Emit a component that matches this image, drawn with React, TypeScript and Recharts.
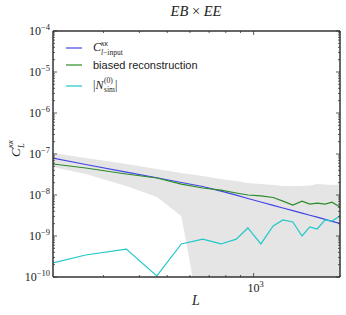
import * as React from "react"
import { ComposedChart, Line, Area, XAxis, YAxis } from "recharts"

// multipole bins
const ells = [200, 260, 360, 460, 560, 665, 770, 870, 955, 1060, 1170, 1265, 1370, 1475, 1570, 1665, 1775, 1875, 2000]

// C_l input
const inputCl = [7.98e-8, 5.54e-8, 3.62e-8, 2.63e-8, 2.02e-8, 1.61e-8, 1.24e-8, 9.9e-9, 8.2e-9, 6.75e-9, 5.6e-9, 4.82e-9, 4.14e-9, 3.6e-9, 3.2e-9, 2.88e-9, 2.54e-9, 2.28e-9, 2.02e-9]

// biased reconstruction
const biasedCl = [5.7e-8, 4.55e-8, 3.25e-8, 2.6e-8, 1.85e-8, 1.48e-8, 1.32e-8, 1.12e-8, 1.0e-8, 9.5e-9, 8.7e-9, 7.1e-9, 5.7e-9, 7.1e-9, 6.0e-9, 6.3e-9, 6.0e-9, 6.7e-9, 5.1e-9]

// |N0 sim|
const n0Sim = [2.2e-10, 3.44e-10, 4.8e-10, 1.06e-10, 6.4e-10, 8.4e-10, 6.4e-10, 8.4e-10, 1.57e-9, 6.4e-10, 1.75e-9, 2.46e-9, 2.2e-9, 1.0e-9, 1.66e-9, 1.48e-9, 2.46e-9, 2.32e-9, 3.07e-9]

// scatter band
const bandLow = [4.82e-8, 3.25e-8, 1.66e-8, 8.9e-9, 3.07e-9, 4.6e-12, 1e-12, 1e-12, 1e-12, 1e-12, 1e-12, 1e-12, 1e-12, 1e-12, 1e-12, 1e-12, 1e-12, 1e-12, 1e-12]
const bandHigh = [1.06e-7, 8.0e-8, 5.7e-8, 4.3e-8, 3.44e-8, 2.9e-8, 2.45e-8, 2.19e-8, 1.96e-8, 1.85e-8, 1.75e-8, 1.66e-8, 1.66e-8, 1.66e-8, 1.7e-8, 1.85e-8, 1.8e-8, 1.75e-8, 1.8e-8]

const xMajor = [1000]
const xMinor = [300, 400, 500, 600, 700, 800, 900, 2000]
const yMajor = [1e-10, 1e-9, 1e-8, 1e-7, 1e-6, 1e-5, 1e-4]
const yExp = ["−10", "−9", "−8", "−7", "−6", "−5", "−4"]

const yMinor: number[] = []
yMajor.slice(0, -1).forEach((d) => {
  for (let m = 2; m <= 9; m++) yMinor.push(d * m)
})

const data = ells.map((l, i) => ({
  L: l,
  input: inputCl[i],
  biased: biasedCl[i],
  n0: n0Sim[i],
  band: [bandLow[i], bandHigh[i]],
}))

const FRAME = "#333"
const LSERIF = "'Liberation Serif', serif"
const SANS = "'Liberation Sans', Arial, sans-serif"

const majorIndex = (v: number) => yMajor.findIndex((m) => Math.abs(m - v) / m < 1e-6)

const LeftTick = ({ x, y, payload }: any) => {
  const idx = majorIndex(payload.value)
  const major = idx >= 0
  return (
    <g>
      <line x1={x} x2={x + (major ? 4 : 2)} y1={y} y2={y} stroke={FRAME} strokeWidth={0.8} />
      {major && (
        <text x={x - 3} y={y + 4} textAnchor="end" fontFamily={LSERIF} fontSize={12} fill="#222">
          10<tspan dy={-5} fontSize={8.5}>{yExp[idx]}</tspan>
        </text>
      )}
    </g>
  )
}

const RightTick = ({ x, y, payload }: any) => {
  const major = majorIndex(payload.value) >= 0
  return <line x1={x} x2={x - (major ? 4 : 2)} y1={y} y2={y} stroke={FRAME} strokeWidth={0.8} />
}

const BottomTick = ({ x, y, payload }: any) => {
  const major = xMajor.includes(payload.value)
  return (
    <g>
      <line x1={x} x2={x} y1={y} y2={y - (major ? 4 : 2)} stroke={FRAME} strokeWidth={0.8} />
      {major && (
        <text x={x + 2} y={y + 15} textAnchor="middle" fontFamily={LSERIF} fontSize={12} fill="#222">
          10<tspan dy={-5} fontSize={8.5}>3</tspan>
        </text>
      )}
    </g>
  )
}

const TopTick = ({ x, y, payload }: any) => {
  const major = xMajor.includes(payload.value)
  return <line x1={x} x2={x} y1={y} y2={y + (major ? 4 : 2)} stroke={FRAME} strokeWidth={0.8} />
}

export default function App() {
  const xTicks = [...xMinor, ...xMajor].sort((a, b) => a - b)
  const yTicks = [...yMajor, ...yMinor].sort((a, b) => a - b)
  return (
    <div style={{ position: "absolute", left: 0, top: 0, width: 346, height: 315, background: "white" }}>
      <ComposedChart width={346} height={315} data={data} margin={{ top: 30, right: 5, bottom: 37, left: 52 }}>
        <XAxis
          dataKey="L"
          type="number"
          scale="log"
          domain={[200, 2000]}
          allowDataOverflow
          ticks={xTicks}
          interval={0}
          height={1}
          tickSize={0}
          tickMargin={0}
          tick={BottomTick}
          axisLine={{ stroke: FRAME, strokeWidth: 1.5 }}
        />
        <XAxis
          xAxisId="top"
          orientation="top"
          dataKey="L"
          type="number"
          scale="log"
          domain={[200, 2000]}
          allowDataOverflow
          ticks={xTicks}
          interval={0}
          height={1}
          tickSize={0}
          tickMargin={0}
          tick={TopTick}
          axisLine={{ stroke: FRAME, strokeWidth: 1.5 }}
        />
        <YAxis
          type="number"
          scale="log"
          domain={[1e-10, 1e-4]}
          allowDataOverflow
          ticks={yTicks}
          interval={0}
          width={1}
          tickSize={0}
          tickMargin={0}
          tick={LeftTick}
          axisLine={{ stroke: FRAME, strokeWidth: 1.5 }}
        />
        <YAxis
          yAxisId="right"
          orientation="right"
          type="number"
          scale="log"
          domain={[1e-10, 1e-4]}
          allowDataOverflow
          ticks={yTicks}
          interval={0}
          width={1}
          tickSize={0}
          tickMargin={0}
          tick={RightTick}
          axisLine={{ stroke: FRAME, strokeWidth: 1.5 }}
        />
        <Area type="linear" dataKey="band" stroke="none" fill="#e5e5e5" fillOpacity={1} isAnimationActive={false} />
        <Line type="linear" dataKey="input" stroke="#4444e6" strokeWidth={1.2} dot={false} isAnimationActive={false} />
        <Line type="linear" dataKey="biased" stroke="#2a8c2a" strokeWidth={1.2} dot={false} isAnimationActive={false} />
        <Line type="linear" dataKey="n0" stroke="#22c8c8" strokeWidth={1.2} dot={false} isAnimationActive={false} />
      </ComposedChart>
      <svg width={346} height={315} style={{ position: "absolute", left: 0, top: 0, pointerEvents: "none" }}>
        <text x={196} y={16} textAnchor="middle" fontFamily={LSERIF} fontStyle="italic" fontSize={14.5} fill="#222">
          EB <tspan fontStyle="normal">×</tspan> EE
        </text>
        <text x={196} y={305} textAnchor="middle" fontFamily={LSERIF} fontStyle="italic" fontSize={14} fill="#222">
          L
        </text>
        <g transform="rotate(-90 15 150)">
          <text x={8} y={155} fontFamily={LSERIF} fontStyle="italic" fontSize={13} fill="#222">C</text>
          <text x={17} y={159} fontFamily={LSERIF} fontStyle="italic" fontSize={8.5} fill="#222">L</text>
          <text x={17} y={148} fontFamily={LSERIF} fontStyle="italic" fontSize={8.5} fill="#222">κκ</text>
        </g>
        <line x1={66} x2={82} y1={48} y2={48} stroke="#4444e6" strokeWidth={1.2} />
        <text x={93} y={51} fontFamily={LSERIF} fontStyle="italic" fontSize={12} fill="#222">C</text>
        <text x={101} y={46} fontFamily={LSERIF} fontStyle="italic" fontSize={7.5} fill="#222">κκ</text>
        <text x={101} y={55} fontFamily={LSERIF} fontSize={7.5} fill="#222">
          <tspan fontStyle="italic">l</tspan>−input
        </text>
        <line x1={66} x2={82} y1={65} y2={65} stroke="#2a8c2a" strokeWidth={1.2} />
        <text x={93} y={69} fontFamily={SANS} fontSize={11} fill="#222">biased reconstruction</text>
        <line x1={66} x2={82} y1={86} y2={86} stroke="#22c8c8" strokeWidth={1.2} />
        <text x={93} y={89} fontFamily={LSERIF} fontSize={12} fill="#222">
          |<tspan fontStyle="italic">N</tspan>
        </text>
        <text x={104} y={83} fontFamily={LSERIF} fontSize={7.5} fill="#222">(0)</text>
        <text x={104} y={92} fontFamily={LSERIF} fontSize={7.5} fill="#222">sim</text>
        <text x={115} y={89} fontFamily={LSERIF} fontSize={12} fill="#222">|</text>
      </svg>
    </div>
  )
}
